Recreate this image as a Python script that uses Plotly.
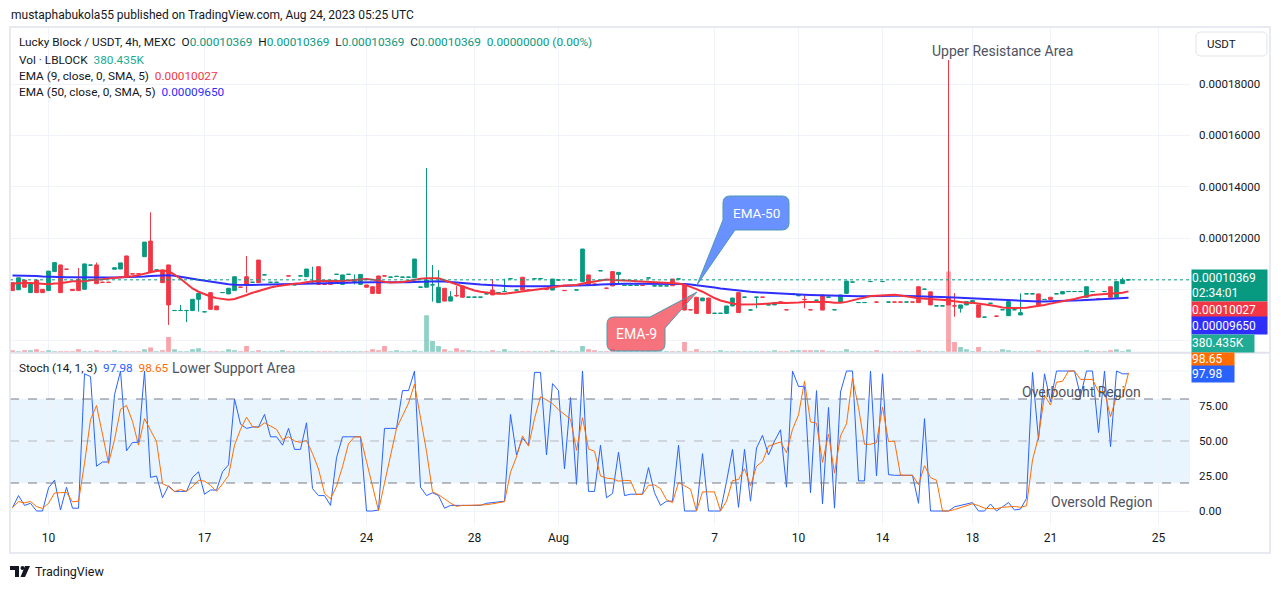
import plotly.graph_objects as go
import pandas as pd

W, H = 1281, 589
GREEN = "#089981"
RED = "#f23645"
FONT = "Roboto"

# bars are indexed like TradingView does (hours without trades are skipped)
tick_bars = [6, 32, 59, 77, 91, 117, 131, 145, 160, 173, 191]
tick_text = ["10", "17", "24", "28", "Aug", "7", "10", "14", "18", "21", "25"]

# LBLOCK/USDT 4h candles, prices in units of 1e-5 USDT
opens = [10.26, 9.98, 10.36, 9.87, 10.36, 10.00, 9.95, 10.69, 10.95, 10.785,
         10.00, 10.39, 10.00, 10.94, 10.95, 10.275, 10.275, 10.78, 10.79, 11.30,
         10.605, 10.605, 11.27, 11.88, 10.75, 10.75, 10.95, 9.17, 9.17, 9.17,
         9.17, 9.61, 9.12, 9.87, 9.35, 9.87, 9.82, 9.95, 10.085, 10.49,
         10.27, 11.14, 10.56, 10.27, 10.27, 10.17, 10.525, 10.17, 10.52, 10.49,
         10.23, 10.88, 10.195, 10.30, 10.58, 10.19, 10.58, 10.30, 10.19, 10.17,
         10.10, 10.52, 10.525, 10.47, 10.50, 10.47, 10.47, 10.45, 10.08, 10.08,
         10.17, 9.48, 10.04, 9.54, 9.755, 10.13, 9.69, 9.69, 9.69, 9.82,
         9.97, 9.87, 9.91, 10.41, 9.97, 10.47, 9.975, 10.41, 10.41, 9.995,
         9.97, 10.36, 9.955, 10.36, 9.97, 10.30, 10.56, 10.205, 10.72, 10.045,
         10.69, 10.58, 10.15, 10.15, 10.15, 10.155, 10.44, 10.13, 10.13, 10.13,
         10.40, 10.40, 10.17, 9.205, 9.69, 9.55, 9.66, 9.06, 9.06, 9.06,
         9.35, 9.87, 9.69, 9.19, 9.69, 9.695, 9.39, 9.39, 9.505, 9.205,
         9.82, 9.75, 9.605, 9.205, 9.57, 9.78, 9.69, 9.20, 9.50, 9.84,
         10.28, 9.48, 9.48, 10.30, 9.505, 10.30, 9.50, 9.505, 9.505, 9.50,
         9.505, 10.10, 10.00, 9.90, 9.35, 9.35, 9.66, 9.355, 9.26, 9.39,
         9.46, 9.39, 8.91, 9.45, 8.955, 9.20, 8.97, 9.20, 9.00, 9.82,
         9.82, 9.82, 9.60, 9.69, 9.82, 9.82, 9.91, 9.91, 9.91, 9.69,
         9.91, 9.635, 9.91, 10.10, 9.69, 10.22, 10.369]
highs = [10.26, 10.45, 10.36, 10.25, 10.36, 10.00, 10.71, 11.04, 10.95, 10.785,
         10.00, 10.83, 10.99, 10.945, 11.04, 10.275, 10.275, 10.84, 11.03, 11.30,
         10.605, 10.605, 11.84, 13.00, 10.755, 10.75, 10.95, 9.175, 9.39, 9.175,
         9.61, 9.84, 9.125, 9.87, 9.35, 9.875, 10.04, 10.49, 10.085, 11.30,
         10.275, 11.14, 10.565, 10.275, 10.275, 10.175, 10.525, 10.175, 10.525, 10.79,
         10.88, 10.88, 10.195, 10.30, 10.585, 10.56, 10.585, 10.58, 10.58, 10.17,
         10.10, 10.52, 10.525, 10.475, 10.505, 10.475, 10.475, 11.18, 10.085, 14.73,
         10.95, 10.75, 10.04, 9.93, 10.13, 10.13, 9.695, 9.695, 9.695, 9.825,
         10.40, 9.875, 10.41, 10.415, 9.975, 10.47, 9.975, 10.415, 10.415, 9.995,
         10.40, 10.365, 9.955, 10.365, 9.975, 11.57, 10.56, 10.205, 10.725, 10.045,
         10.69, 10.66, 10.155, 10.155, 10.155, 10.155, 10.445, 10.135, 10.135, 10.135,
         10.40, 10.405, 10.17, 9.205, 9.69, 9.66, 9.66, 9.065, 9.065, 9.35,
         9.66, 9.87, 9.695, 9.195, 9.695, 9.695, 9.395, 9.48, 9.505, 9.205,
         9.825, 9.755, 9.78, 9.205, 9.575, 9.78, 9.695, 9.205, 9.78, 10.32,
         10.285, 9.485, 9.485, 10.305, 9.505, 10.305, 9.505, 9.505, 9.505, 9.505,
         9.505, 10.10, 10.005, 9.90, 9.355, 9.355, 18.94, 9.85, 9.39, 9.52,
         9.56, 9.39, 8.915, 9.455, 8.955, 9.205, 9.52, 9.205, 9.84, 9.825,
         9.825, 9.82, 9.605, 9.69, 9.825, 9.91, 9.915, 9.915, 9.915, 10.10,
         9.915, 9.635, 9.915, 10.10, 10.30, 10.45, 10.369]
lows = [9.95, 9.98, 10.08, 9.87, 9.87, 9.87, 9.95, 10.69, 9.87, 10.78,
        9.95, 9.95, 10.00, 10.94, 10.22, 10.27, 10.27, 10.78, 10.79, 10.49,
        10.60, 10.60, 11.27, 10.68, 10.75, 10.26, 8.61, 9.17, 9.17, 8.72,
        9.17, 9.13, 9.12, 9.22, 9.20, 9.87, 9.82, 9.95, 10.08, 9.87,
        10.27, 10.26, 10.56, 10.27, 10.27, 10.17, 10.52, 10.17, 10.52, 10.49,
        10.23, 10.19, 10.19, 10.19, 10.58, 10.19, 10.58, 10.19, 10.19, 10.08,
        9.84, 9.84, 10.52, 10.47, 10.50, 10.47, 10.47, 10.45, 10.08, 10.08,
        9.52, 9.48, 9.54, 9.54, 9.71, 9.69, 9.69, 9.69, 9.69, 9.82,
        9.78, 9.87, 9.91, 10.41, 9.97, 9.97, 9.97, 10.41, 10.41, 9.99,
        9.97, 10.36, 9.95, 10.36, 9.97, 10.30, 10.17, 10.20, 10.72, 10.04,
        10.13, 10.17, 10.15, 10.15, 10.15, 10.15, 10.44, 10.13, 10.13, 10.13,
        10.14, 10.40, 9.19, 9.20, 9.06, 9.55, 9.06, 9.06, 9.06, 9.06,
        9.35, 9.09, 9.69, 9.19, 9.26, 9.69, 9.39, 9.39, 9.50, 9.20,
        9.82, 9.75, 9.26, 9.20, 9.57, 9.19, 9.69, 9.20, 9.50, 9.84,
        10.28, 9.48, 9.48, 10.30, 9.50, 10.30, 9.50, 9.50, 9.50, 9.50,
        9.50, 9.48, 10.00, 9.39, 9.35, 9.35, 9.39, 8.93, 9.09, 9.39,
        9.46, 8.91, 8.91, 9.45, 8.95, 9.20, 8.97, 9.20, 9.00, 9.82,
        9.82, 9.39, 9.60, 9.60, 9.82, 9.82, 9.91, 9.91, 9.91, 9.69,
        9.91, 9.63, 9.91, 9.69, 9.69, 10.22, 10.369]
closes = [9.95, 10.45, 10.08, 10.25, 9.87, 9.87, 10.71, 11.04, 9.87, 10.78,
          9.95, 9.95, 10.99, 10.945, 10.22, 10.27, 10.27, 10.84, 11.03, 10.49,
          10.60, 10.60, 11.84, 10.68, 10.755, 10.26, 9.39, 9.175, 9.175, 9.175,
          9.61, 9.84, 9.125, 9.22, 9.20, 9.875, 10.04, 10.49, 10.08, 10.17,
          10.275, 10.26, 10.565, 10.275, 10.275, 10.175, 10.52, 10.175, 10.525, 10.79,
          10.235, 10.19, 10.19, 10.19, 10.585, 10.56, 10.585, 10.305, 10.58, 10.08,
          9.84, 9.84, 10.52, 10.475, 10.505, 10.475, 10.475, 11.18, 10.085, 10.36,
          10.175, 10.08, 9.54, 9.71, 9.75, 9.69, 9.695, 9.695, 9.695, 9.825,
          9.78, 9.875, 9.915, 10.415, 9.975, 9.97, 9.97, 10.415, 10.415, 9.99,
          10.40, 10.365, 9.95, 10.365, 9.975, 11.57, 10.17, 10.20, 10.725, 10.04,
          10.13, 10.66, 10.155, 10.155, 10.155, 10.15, 10.445, 10.135, 10.135, 10.135,
          10.14, 10.405, 9.19, 9.20, 9.06, 9.66, 9.06, 9.065, 9.065, 9.35,
          9.66, 9.09, 9.695, 9.195, 9.695, 9.69, 9.395, 9.48, 9.50, 9.20,
          9.825, 9.755, 9.60, 9.20, 9.575, 9.19, 9.695, 9.205, 9.78, 10.32,
          10.285, 9.485, 9.485, 10.305, 9.50, 10.305, 9.505, 9.50, 9.50, 9.505,
          9.50, 9.48, 10.005, 9.39, 9.355, 9.355, 9.39, 9.35, 9.39, 9.52,
          9.56, 8.91, 8.915, 9.455, 8.95, 9.205, 9.52, 9.205, 9.09, 9.825,
          9.825, 9.39, 9.605, 9.60, 9.825, 9.91, 9.915, 9.915, 9.915, 10.10,
          9.915, 9.63, 9.915, 9.69, 10.30, 10.369, 10.369]
# volume in thousands of LBLOCK
volumes = [300, 170, 300, 300, 430, 170, 300, 170, 170, 170,
           170, 430, 170, 170, 300, 170, 170, 300, 170, 170,
           170, 170, 430, 650, 170, 300, 2030, 430, 170, 170,
           430, 560, 170, 170, 170, 170, 430, 300, 170, 850,
           170, 300, 170, 170, 170, 300, 170, 170, 170, 170,
           170, 170, 170, 170, 170, 170, 170, 170, 170, 170,
           430, 300, 850, 170, 300, 170, 170, 300, 170, 4850,
           1510, 850, 430, 170, 560, 300, 300, 170, 170, 170,
           300, 170, 430, 170, 170, 170, 170, 170, 170, 170,
           300, 170, 170, 170, 170, 850, 430, 300, 170, 170,
           430, 170, 170, 170, 170, 170, 170, 170, 170, 170,
           170, 170, 1380, 170, 430, 170, 170, 170, 300, 170,
           170, 170, 170, 170, 170, 170, 170, 300, 170, 170,
           300, 300, 300, 300, 300, 300, 170, 170, 170, 430,
           170, 170, 170, 170, 300, 170, 170, 170, 170, 170,
           170, 300, 170, 170, 170, 170, 10530, 1380, 730, 430,
           170, 730, 170, 170, 170, 430, 300, 170, 170, 170,
           170, 300, 170, 170, 170, 170, 170, 170, 170, 300,
           170, 170, 170, 300, 430, 170, 380.435]
# Stochastic %K (14, 1)
stoch_k = [2.4, 11, 4, 5.5, 0, 0, 16.5, 22, 0.7, 17,
           2, 2, 98, 96, 32, 35, 35, 83, 100, 43,
           49, 49, 100, 24, 25, 9.5, 18, 14, 14, 14,
           24, 28, 12, 15, 15, 28, 33, 80, 62, 59,
           60, 60, 69, 53, 53, 47, 59, 44, 44, 63,
           16, 11, 11, 4, 38, 53, 53, 53, 53, 0,
           0, 0.7, 59, 59, 59, 86, 86, 100, 17, 11,
           13, 11, 2, 4, 4, 4, 4, 4, 4, 5.5,
           6, 7, 7, 69, 40, 52, 47, 99, 99, 40,
           91, 86, 30, 81, 19, 100, 14, 14, 47, 9.5,
           12.5, 42, 11, 12, 12, 12, 31, 13, 4, 7,
           7, 47, 0, 0, 0, 41, 0, 0, 0, 21,
           44, 2.6, 44, 7, 45, 54, 40, 50, 58, 17,
           100, 89, 89, 13, 86, 5, 74, 2, 85, 100,
           100, 21.5, 21.5, 100, 25, 98, 26, 25.5, 25.5, 25.5,
           25.5, 5.5, 66, 0, 0, 0, 0, 3, 4, 5.5,
           6, 0, 0, 5, 0, 3, 6, 0.7, 1.4, 9,
           99, 51, 98, 78, 100, 100, 100, 100, 82, 100,
           100, 56, 100, 46, 100, 98, 97.98]
# EMA values at the first visible bar (1e-5 units)
ema9_start = 10.30
ema50_start = 10.56

bars = list(range(len(closes)))
scale = 1e-5
o = [v * scale for v in opens]
h = [v * scale for v in highs]
l = [v * scale for v in lows]
c = [v * scale for v in closes]


def ema(values, span, start):
    a = 2 / (span + 1)
    e = start
    out = []
    for v in values:
        e = e + a * (v - e)
        out.append(e * scale)
    return pd.Series(out).rolling(5, min_periods=1).mean()


ema9 = ema(closes, 9, ema9_start)
ema50 = ema(closes, 50, ema50_start)
stoch_d = pd.Series(stoch_k).rolling(3, min_periods=1).mean()

vol_colors = ["rgba(8,153,129,0.45)" if cc >= oo else "rgba(242,54,69,0.45)"
              for oo, cc in zip(opens, closes)]

fig = go.Figure()
fig.add_trace(go.Bar(x=bars, y=volumes, marker_color=vol_colors, marker_line_width=0,
                     width=0.8, xaxis="x", yaxis="y", hoverinfo="skip"))
fig.add_trace(go.Candlestick(x=bars, open=o, high=h, low=l, close=c, xaxis="x", yaxis="y3",
                             increasing=dict(line=dict(color=GREEN, width=1), fillcolor=GREEN),
                             decreasing=dict(line=dict(color=RED, width=1), fillcolor=RED),
                             whiskerwidth=0))
fig.add_trace(go.Scatter(x=bars, y=ema50, mode="lines", xaxis="x", yaxis="y3",
                         line=dict(color="#2e2eff", width=2)))
fig.add_trace(go.Scatter(x=bars, y=ema9, mode="lines", xaxis="x", yaxis="y3",
                         line=dict(color="#f5333f", width=2)))
fig.add_trace(go.Scatter(x=bars, y=stoch_k, mode="lines", xaxis="x2", yaxis="y2",
                         line=dict(color="#2962ff", width=1)))
fig.add_trace(go.Scatter(x=bars, y=stoch_d, mode="lines", xaxis="x2", yaxis="y2",
                         line=dict(color="#ff6d00", width=1)))


def px(x):
    return x / W


def py(y):
    return 1 - y / H


def P(x, y):
    return f"{px(x):.5f},{py(y):.5f}"


xdom = [px(10), px(1190)]
xr = [-0.42, 196.25]
grid = "#f0f3fa"
price_ticks = [8e-5, 10e-5, 12e-5, 14e-5, 16e-5, 18e-5]
# the two lowest labels sit behind the price tags in the reference
price_labels = ["", "", "0.00012000", "0.00014000", "0.00016000", "0.00018000"]

fig.update_layout(
    width=W, height=H, margin=dict(l=0, r=0, t=0, b=0),
    paper_bgcolor="white", plot_bgcolor="white", showlegend=False,
    font=dict(family=FONT, color="#131722"), boxgap=0.12,
    xaxis=dict(domain=xdom, range=xr, anchor="y", tickvals=tick_bars, showticklabels=False,
               showgrid=True, gridcolor=grid, zeroline=False, rangeslider=dict(visible=False),
               showline=False, ticks=""),
    yaxis=dict(domain=[py(352.5), py(27)], range=[0, 42300], visible=False, showgrid=False),
    yaxis3=dict(overlaying="y", side="right", anchor="x", range=[7.536e-5, 20.226e-5],
                tickvals=price_ticks, ticktext=price_labels,
                showgrid=True, gridcolor=grid, zeroline=False, ticks="",
                tickfont=dict(size=11.5, color="#131722"), ticklabelstandoff=8),
    xaxis2=dict(domain=xdom, range=xr, anchor="y2", tickvals=tick_bars, ticktext=tick_text,
                showgrid=True, gridcolor=grid, zeroline=False, ticks="",
                tickfont=dict(size=12, color="#131722"), ticklabelstandoff=4),
    yaxis2=dict(domain=[py(525), py(353.5)], range=[-10, 112.5], side="right", anchor="x2",
                tickvals=[0, 25, 50, 75], tickformat=".2f", showgrid=True, gridcolor=grid,
                zeroline=False, ticks="", tickfont=dict(size=11.5, color="#131722"),
                ticklabelstandoff=8),
)

shapes = [
    # stochastic band and levels
    dict(type="rect", xref="x2 domain", yref="y2", x0=0, x1=1, y0=20, y1=80,
         fillcolor="rgba(33,150,243,0.1)", line_width=0, layer="below"),
    dict(type="line", xref="x2 domain", yref="y2", x0=0, x1=1, y0=100, y1=100,
         line=dict(color=grid, width=1), layer="below"),
    dict(type="line", xref="x2 domain", yref="y2", x0=0, x1=1, y0=80, y1=80,
         line=dict(color="#787b86", width=1, dash="dash")),
    dict(type="line", xref="x2 domain", yref="y2", x0=0, x1=1, y0=50, y1=50,
         line=dict(color="rgba(120,123,134,0.5)", width=1, dash="dash")),
    dict(type="line", xref="x2 domain", yref="y2", x0=0, x1=1, y0=20, y1=20,
         line=dict(color="#787b86", width=1, dash="dash")),
    # last price line
    dict(type="line", xref="x domain", yref="y3", x0=0, x1=1, y0=closes[-1] * scale,
         y1=closes[-1] * scale, line=dict(color=GREEN, width=1, dash="dot")),
    # frame and pane separator
    dict(type="rect", xref="paper", yref="paper", x0=px(10), x1=px(1270), y0=py(553), y1=py(27),
         line=dict(color="#e0e3eb", width=1.5)),
    dict(type="line", xref="paper", yref="paper", x0=px(10), x1=px(1270), y0=py(352.8), y1=py(352.8),
         line=dict(color="#e0e3eb", width=2)),
]

# callouts
x0, y0, x1, y1, r = 723, 196, 789, 230, 7
ema50_path = (f"M {P(x0 + r, y0)} L {P(x1 - r, y0)} Q {P(x1, y0)} {P(x1, y0 + r)} "
              f"L {P(x1, y1 - r)} Q {P(x1, y1)} {P(x1 - r, y1)} L {P(735, y1)} L {P(697, 285)} "
              f"L {P(x0, 220)} L {P(x0, y0 + r)} Q {P(x0, y0)} {P(x0 + r, y0)} Z")
shapes.append(dict(type="path", xref="paper", yref="paper", path=ema50_path,
                   fillcolor="rgba(41,98,255,0.7)", line=dict(color="#4c9bb0", width=1), layer="above"))
x0, y0, x1, y1, r = 607, 317, 665, 351, 7
ema9_path = (f"M {P(x0 + r, y0)} L {P(650, y0)} L {P(697, 292)} L {P(x1, 328)} "
             f"L {P(x1, y1 - r)} Q {P(x1, y1)} {P(x1 - r, y1)} L {P(x0 + r, y1)} "
             f"Q {P(x0, y1)} {P(x0, y1 - r)} L {P(x0, y0 + r)} Q {P(x0, y0)} {P(x0 + r, y0)} Z")
shapes.append(dict(type="path", xref="paper", yref="paper", path=ema9_path,
                   fillcolor="rgba(242,54,69,0.7)", line=dict(color="#4c9bb0", width=1), layer="above"))

# USDT button
x0, y0, x1, y1, r = 1196, 32, 1267, 56, 5
btn = (f"M {P(x0 + r, y0)} L {P(x1 - r, y0)} Q {P(x1, y0)} {P(x1, y0 + r)} L {P(x1, y1 - r)} "
       f"Q {P(x1, y1)} {P(x1 - r, y1)} L {P(x0 + r, y1)} Q {P(x0, y1)} {P(x0, y1 - r)} "
       f"L {P(x0, y0 + r)} Q {P(x0, y0)} {P(x0 + r, y0)} Z")
shapes.append(dict(type="path", xref="paper", yref="paper", path=btn, fillcolor="white",
                   line=dict(color="#e0e3eb", width=1)))

# TradingView logo
shapes.append(dict(type="path", xref="paper", yref="paper", fillcolor="#131722", line_width=0,
                   path=f"M {P(10, 566)} L {P(19, 566)} L {P(19, 577)} L {P(15, 577)} L {P(15, 570)} L {P(10, 570)} Z"))
shapes.append(dict(type="circle", xref="paper", yref="paper", fillcolor="#131722", line_width=0,
                   x0=px(20.5), x1=px(24.5), y0=py(570), y1=py(566)))
shapes.append(dict(type="path", xref="paper", yref="paper", fillcolor="#131722", line_width=0,
                   path=f"M {P(25, 566)} L {P(30, 566)} L {P(25, 577)} L {P(20.5, 577)} Z"))

fig.update_layout(shapes=shapes)

ann = []


def text(x, y, s, size=12, color="#131722", xanchor="left", **kw):
    ann.append(dict(x=px(x), y=py(y), xref="paper", yref="paper", text=s, showarrow=False,
                    xanchor=xanchor, yanchor="middle", font=dict(family=FONT, size=size, color=color), **kw))


def span(s, col):
    return f'<span style="color:{col}">{s}</span>'


NB = "\u00a0"
val = "0.00010369"
text(9, 15, "mustaphabukola55 published on TradingView.com, Aug 24, 2023 05:25 UTC", 12)
text(17, 42, f"Lucky Block / USDT, 4h, MEXC{NB}{NB}O{span(val, GREEN)}{NB}{NB}H{span(val, GREEN)}"
     f"{NB}{NB}L{span(val, GREEN)}{NB}{NB}C{span(val, GREEN)}{NB}{NB}{span('0.00000000 (0.00%)', GREEN)}", 11.8)
text(17, 60, f"Vol · LBLOCK{NB}{NB}{span('380.435K', '#22ab94')}", 11.8)
text(17, 76, f"EMA (9, close, 0, SMA, 5){NB}{NB}{span('0.00010027', RED)}", 11.8)
text(17, 92, f"EMA (50, close, 0, SMA, 5){NB}{NB}{span('0.00009650', '#2e2eff')}", 11.8)
text(17, 368, f"Stoch (14, 1, 3){NB}{NB}{span('97.98', '#2962ff')}{NB}{NB}{span('98.65', '#ff6d00')}", 11.8)

text(170, 368, "Lower Support Area", 14, "#50535e")
text(1002, 51, "Upper Resistance Area", 14, "#50535e", xanchor="center")
text(1081, 392, "Overbought Region", 14, "#50535e", xanchor="center")
text(1102, 502, "Oversold Region", 14, "#50535e", xanchor="center")

text(756, 213, "EMA-50", 13.5, "white", xanchor="center")
text(636, 334, "EMA-9", 14, "white", xanchor="center")

text(1205, 44, "USDT", 11.5)
text(33, 571, "TradingView", 12.5)

# right-axis tags


def tag(y0, y1, s, bg, w=75):
    ann.append(dict(x=px(1191), y=py((y0 + y1) / 2), xref="paper", yref="paper", text=s,
                    showarrow=False, xanchor="left", yanchor="middle", align="left",
                    width=w, height=y1 - y0, bgcolor=bg, borderpad=0,
                    font=dict(family=FONT, size=12, color="white")))


tag(270, 301, "0.00010369<br>02:34:01", GREEN)
tag(301.5, 316.5, "0.00010027", RED)
tag(317, 334, "0.00009650", "#2e2eff")
tag(335, 351.5, "380.435K", "#22ab94", w=62)
tag(353.5, 366, "98.65", "#ff6d00", w=42)
tag(366, 382, "97.98", "#2962ff", w=42)

fig.update_layout(annotations=ann)

# drop the browser's default 8px body margin so the figure sits at the page origin
fig.write_html("out.html", config={"displayModeBar": False},
               post_script="document.body.style.margin='0';")
